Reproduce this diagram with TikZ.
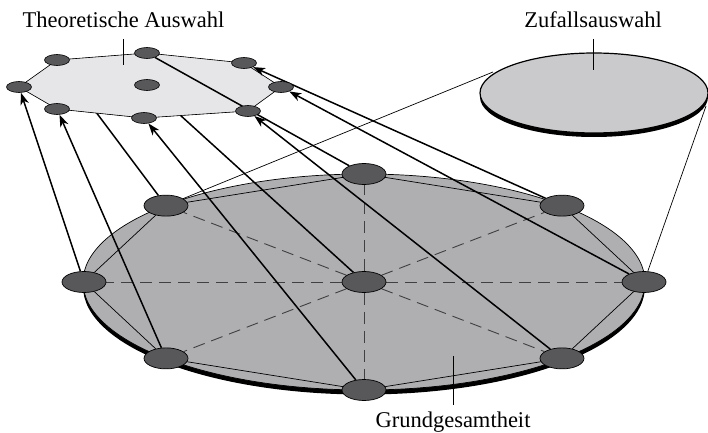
\documentclass[tikz,border=0pt]{standalone}
\usepackage{fontspec}
\setmainfont{Liberation Serif}
\usepackage{xcolor}
\usetikzlibrary{arrows.meta,positioning,shapes.geometric,calc}
\definecolor{unitgray}{HTML}{58585A}
\definecolor{popgray}{HTML}{AFAFB2}
\definecolor{theogray}{HTML}{E6E6E8}
\definecolor{randgray}{HTML}{CACACC}
\definecolor{spokegray}{HTML}{404040}
\pgfdeclarelayer{back}
\pgfsetlayers{back,main}

\begin{document}
\begin{tikzpicture}[x=1pt, y=1pt,
                every node/.style={font=\fontsize{22.5}{27}\selectfont},
                bigunit/.style={ellipse, draw, line width=0.7pt, fill=unitgray, minimum width=44pt, minimum height=21pt, inner sep=0pt},
                smallunit/.style={ellipse, draw, line width=0.6pt, fill=unitgray, minimum width=25pt, minimum height=11pt, inner sep=0pt},
                sel/.style={line width=1.5pt},
                selarrow/.style={sel, -{Stealth[length=12pt, width=8.5pt, inset=3.5pt]}},
                rim/.style={line width=0.7pt},
                spoke/.style={line width=0.9pt, draw=spokegray, dash pattern=on 12pt off 7pt},
                tick/.style={line width=0.8pt},
                caption/.style={anchor=base, inner sep=0pt}
            ]
                \useasboundingbox (0,0) rectangle (708,432);

                % Grundgesamtheit: centre unit and eight units on the rim
                \coordinate (gcenter) at (364,150);
                \node[bigunit] (g0) at (gcenter) {};
                \foreach \i/\a in {1/0,2/45,3/90,4/135,5/180,6/225,7/270,8/315}
                    \node[bigunit] (g\i) at ($(gcenter)+(\a:280 and 108)$) {};

                % Theoretische Auswahl: the same nine units, smaller
                \node[smallunit] (s0) at (147,347) {};
                \node[smallunit] (s1) at (281,345) {};
                \node[smallunit] (s2) at (244,369) {};
                \node[smallunit] (s3) at (147,379) {};
                \node[smallunit] (s4) at (57,372) {};
                \node[smallunit] (s5) at (19,345) {};
                \node[smallunit] (s6) at (57,323) {};
                \node[smallunit] (s7) at (144,314) {};
                \node[smallunit] (s8) at (248,321) {};

                % Labels
                \node[caption] (theolabel) at (123.5,404) {Theoretische Auswahl};
                \node[caption] (randlabel) at (593,404) {Zufallsauswahl};
                \node[caption] (poplabel) at (453,5) {Grundgesamtheit};
                \coordinate (theotop) at (123,393);
                \coordinate (theotip) at (123,367);
                \coordinate (randtop) at (593,393);
                \coordinate (randtip) at (593,362);
                \coordinate (poptop) at (453,76);
                \coordinate (poptip) at (453,27);
                \coordinate (randleft) at (493,360);
                \coordinate (randright) at (706,326);

                \begin{pgfonlayer}{back}
                    % population disc with its shadow
                    \fill[black] ([yshift=-4.5pt]gcenter) ellipse [x radius=281, y radius=108];
                    \filldraw[fill=popgray, rim] (gcenter) ellipse [x radius=281, y radius=108];
                    \foreach \i in {1,...,8}
                        \draw[spoke] (g0) -- (g\i);
                    \draw[rim] (g1) -- (g2) -- (g3) -- (g4) -- (g5) -- (g6) -- (g7) -- (g8) -- (g1);

                    % random sample disc
                    \draw[rim] (g4) -- (randleft);
                    \draw[rim] (g1) -- (randright);
                    \fill[black] (594,335) ellipse [x radius=114, y radius=40];
                    \filldraw[fill=randgray, line width=1.2pt] (594,339) ellipse [x radius=114, y radius=40];

                    % lines that run behind the plate
                    \draw[sel] (g4) -- (s4);
                    \draw[sel] (g0) -- (s0);

                    % theoretical sample plate
                    \fill[black, yshift=-3pt] (s1.center) -- (s2.center) -- (s3.center) -- (s4.center) -- (s5.center) -- (s6.center) -- (s7.center) -- (s8.center) -- cycle;
                    \filldraw[fill=theogray, line width=0.6pt] (s1.center) -- (s2.center) -- (s3.center) -- (s4.center) -- (s5.center) -- (s6.center) -- (s7.center) -- (s8.center) -- cycle;

                    % selection lines
                    \draw[sel] (g3) -- (s3);
                    \foreach \i in {1,2,5,6,7,8}
                        \draw[selarrow] (g\i) -- (s\i);

                    % label ticks
                    \draw[tick] (theotop) -- (theotip);
                    \draw[tick] (randtop) -- (randtip);
                    \draw[tick] (poptop) -- (poptip);
                \end{pgfonlayer}

            \end{tikzpicture}
\end{document}
